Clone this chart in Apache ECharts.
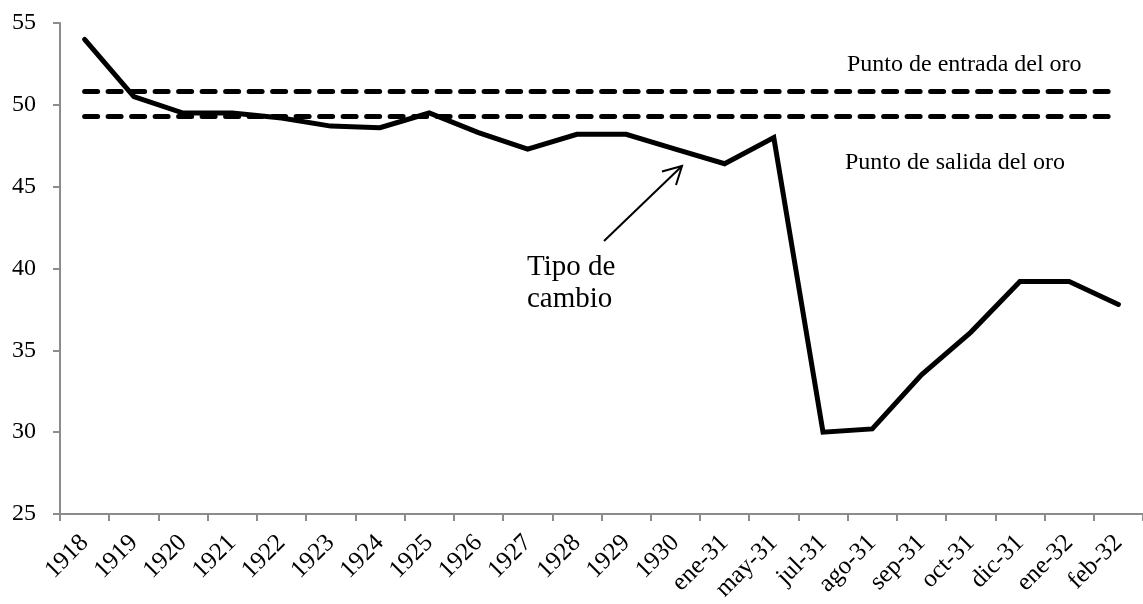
<!DOCTYPE html>
<html>
<head>
<meta charset="utf-8">
<script src="https://cdn.jsdelivr.net/npm/echarts@6/dist/echarts.min.js"></script>
<style>
  html, body { margin: 0; padding: 0; background: #fff; }
  #chart { width: 1143px; height: 604px; }
</style>
</head>
<body>
<div id="chart"></div>
<script>
// Periods on the horizontal axis
const categories = ['1918', '1919', '1920', '1921', '1922', '1923', '1924', '1925', '1926',
  '1927', '1928', '1929', '1930', 'ene-31', 'may-31', 'jul-31', 'ago-31', 'sep-31',
  'oct-31', 'dic-31', 'ene-32', 'feb-32'];

// Exchange rate
const exchangeRate = [54.0, 50.5, 49.5, 49.5, 49.2, 48.7, 48.6, 49.5, 48.3,
  47.3, 48.2, 48.2, 47.3, 46.4, 48.0, 30.0, 30.2, 33.5,
  36.1, 39.2, 39.2, 37.8];

// Gold points (horizontal reference levels)
const goldImportPoint = 50.8;
const goldExportPoint = 49.3;

// Value axis ticks
const yTicks = [25, 30, 35, 40, 45, 50, 55];

const FONT = '"Liberation Serif", "Times New Roman", serif';
const AXIS_GREY = '#8c8c8c';

const chart = echarts.init(document.getElementById('chart'), null, { renderer: 'canvas' });

const dashStyle = {
  color: '#000',
  width: 5,
  type: [13, 10.5],
  cap: 'round'
};

function levelLine(value) {
  return [
    { coord: [categories[0], value] },
    { coord: [categories[categories.length - 1], value] }
  ];
}

chart.setOption({
  animation: false,
  backgroundColor: '#fff',
  grid: { left: 60, top: 23, right: -10, bottom: 90 },
  xAxis: {
    type: 'category',
    data: categories,
    boundaryGap: true,
    axisLine: { show: true, lineStyle: { color: AXIS_GREY, width: 2 } },
    axisTick: { show: true, inside: false, length: 7, interval: 0, lineStyle: { color: AXIS_GREY, width: 2 } },
    axisLabel: {
      interval: 0,
      rotate: 45,
      margin: 25,
      color: '#000',
      fontFamily: FONT,
      fontSize: 25
    },
    splitLine: { show: false }
  },
  yAxis: {
    type: 'value',
    min: yTicks[0],
    max: yTicks[yTicks.length - 1],
    interval: 5,
    axisLine: { show: true, lineStyle: { color: AXIS_GREY, width: 2 } },
    axisTick: { show: true, inside: false, length: 7, lineStyle: { color: AXIS_GREY, width: 2 } },
    axisLabel: {
      margin: 24,
      color: '#000',
      fontFamily: FONT,
      fontSize: 24
    },
    splitLine: { show: false }
  },
  series: [
    {
      name: 'Tipo de cambio',
      type: 'line',
      data: exchangeRate,
      showSymbol: false,
      symbol: 'none',
      lineStyle: { color: '#000', width: 5, cap: 'round', join: 'miter' },
      z: 3,
      markLine: {
        silent: true,
        symbol: ['none', 'none'],
        label: { show: false },
        lineStyle: dashStyle,
        emphasis: { disabled: true },
        data: [levelLine(goldImportPoint), levelLine(goldExportPoint)]
      }
    }
  ],
  graphic: [
    {
      type: 'text',
      left: 847,
      top: 53,
      style: { text: 'Punto de entrada del oro', font: '24px ' + FONT, fill: '#000' }
    },
    {
      type: 'text',
      left: 845,
      top: 151,
      style: { text: 'Punto de salida del oro', font: '24px ' + FONT, fill: '#000' }
    },
    {
      type: 'text',
      left: 527,
      top: 251,
      style: { text: 'Tipo de\ncambio', font: '29px ' + FONT, fill: '#000', lineHeight: 32 }
    },
    {
      type: 'line',
      shape: { x1: 604, y1: 241, x2: 682, y2: 166 },
      style: { stroke: '#000', lineWidth: 2 }
    },
    {
      type: 'polyline',
      shape: { points: [[662, 171.5], [682, 166], [676, 185]] },
      style: { stroke: '#000', lineWidth: 2, fill: null }
    }
  ]
});
</script>
</body>
</html>
